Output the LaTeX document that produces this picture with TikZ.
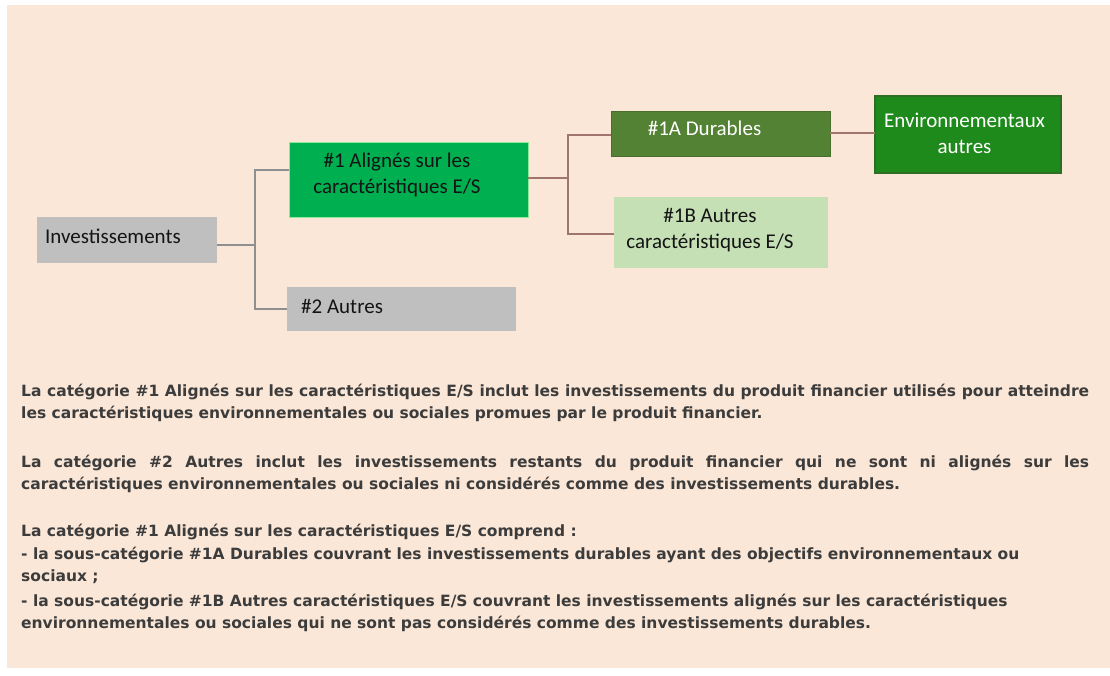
\documentclass[tikz,border=0pt]{standalone}
\usepackage{fontspec}
\newfontfamily\boxfont{Carlito}
\newfontfamily\bodyfont{DejaVu Sans}
\definecolor{peach}{HTML}{FBE7D7}
\definecolor{boxgray}{HTML}{BFBFBF}
\definecolor{greenone}{HTML}{00B050}
\definecolor{greenglow}{HTML}{8FE89A}
\definecolor{greenonea}{HTML}{548235}
\definecolor{greenenv}{HTML}{1F8A1C}
\definecolor{greenenvedge}{HTML}{2E6E24}
\definecolor{greenoneb}{HTML}{C5E0B4}
\definecolor{glinec}{HTML}{8F8F8F}
\definecolor{blinec}{HTML}{A0756C}
\definecolor{bodytext}{HTML}{3C3C3C}
\definecolor{boxtext}{HTML}{141414}
\begin{document}
\begin{tikzpicture}[x=1pt,y=-1pt,
  box/.style={rectangle, inner sep=0pt, outer sep=0pt},
  boxtxt/.style={inner sep=0pt, text=boxtext, font=\boxfont\fontsize{21}{26}\selectfont},
  body/.style={inner sep=0pt, anchor=base west, text width=1068pt, align=justify, text=bodytext,
    font=\bodyfont\bfseries\fontsize{15.5}{22.5}\selectfont,
    execute at begin node={\hyphenpenalty=10000\exhyphenpenalty=10000\tolerance=10000}},
  gline/.style={draw=glinec, line width=1.5pt},
  bline/.style={draw=blinec, line width=2pt}]
\useasboundingbox (0,0) rectangle (1110,675);
\fill[white] (0,0) rectangle (1110,675);
\fill[peach] (7,5) rectangle (1110,668);

% boxes
\node[box, fill=boxgray, minimum width=180pt, minimum height=46pt] (inv) at (127,240) {};
\node[box, fill=greenone, draw=greenglow, line width=1pt, minimum width=239pt, minimum height=75pt] (c1) at (408.5,179.5) {};
\node[box, fill=boxgray, minimum width=229pt, minimum height=44pt] (c2) at (401.5,309) {};
\node[box, fill=greenonea, draw=greenonea!85!black, line width=0.8pt, minimum width=219pt, minimum height=45pt] (c1a) at (720.5,133.5) {};
\node[box, fill=greenoneb, minimum width=214pt, minimum height=71pt] (c1b) at (721,232.5) {};
\node[box, fill=greenenv, draw=greenenvedge, line width=1.2pt, minimum width=186pt, minimum height=77pt] (env) at (968,134.5) {};

% box texts
\node[boxtxt, anchor=base west] (tinv) at (45,243) {Investissements};
\node[boxtxt, anchor=base, text width=230pt, align=flush center] (tc1) at (397,167) {\#1 Alignés sur les\\caractéristiques E/S};
\node[boxtxt, anchor=base west] (tc2) at (301,313) {\#2 Autres};
\node[boxtxt, anchor=base, text=white] (tc1a) at (704.5,135) {\#1A Durables};
\node[boxtxt, anchor=base, text width=210pt, align=flush center] (tc1b) at (710,222) {\#1B Autres\\caractéristiques E/S};
\node[boxtxt, anchor=base, text width=186pt, align=flush center, text=white] (tenv) at (964.5,127) {Environnementaux\\autres};

% connectors
\coordinate (j1) at (255,245);
\coordinate (ja) at (255,170);
\coordinate (jb) at (255,309);
\draw[gline] (inv.east |- j1) -- (j1);
\draw[gline] (c1.west |- ja) -- (ja) -- (jb) -- (c2.west |- jb);
\coordinate (k) at (568,178);
\coordinate (ka) at (568,135);
\coordinate (kb) at (568,234);
\draw[bline] (c1.east |- k) -- (k);
\draw[bline] (c1a.west |- ka) -- (ka) -- (kb) -- (c1b.west |- kb);
\coordinate (m) at (850,133);
\draw[bline] (c1a.east |- m) -- (env.west |- m);

% body text
\node[body] (p1) at (21,396) {La catégorie \#1 Alignés sur les caractéristiques E/S inclut les investissements du produit financier utilisés pour atteindre\linebreak les caractéristiques environnementales ou sociales promues par le produit financier.};
\node[body] (p2) at (21,467) {La catégorie \#2 Autres inclut les investissements restants du produit financier qui ne sont ni alignés sur les\linebreak caractéristiques environnementales ou sociales ni considérés comme des investissements durables.};
\node[body] (p3) at (21,536) {La catégorie \#1 Alignés sur les caractéristiques E/S comprend :};
\node[body] (p4) at (21,559) {- la sous-catégorie \#1A Durables couvrant les investissements durables ayant des objectifs environnementaux ou\\sociaux ;};
\node[body] (p5) at (21,606) {- la sous-catégorie \#1B Autres caractéristiques E/S couvrant les investissements alignés sur les caractéristiques\\environnementales ou sociales qui ne sont pas considérés comme des investissements durables.};
\end{tikzpicture}
\end{document}
